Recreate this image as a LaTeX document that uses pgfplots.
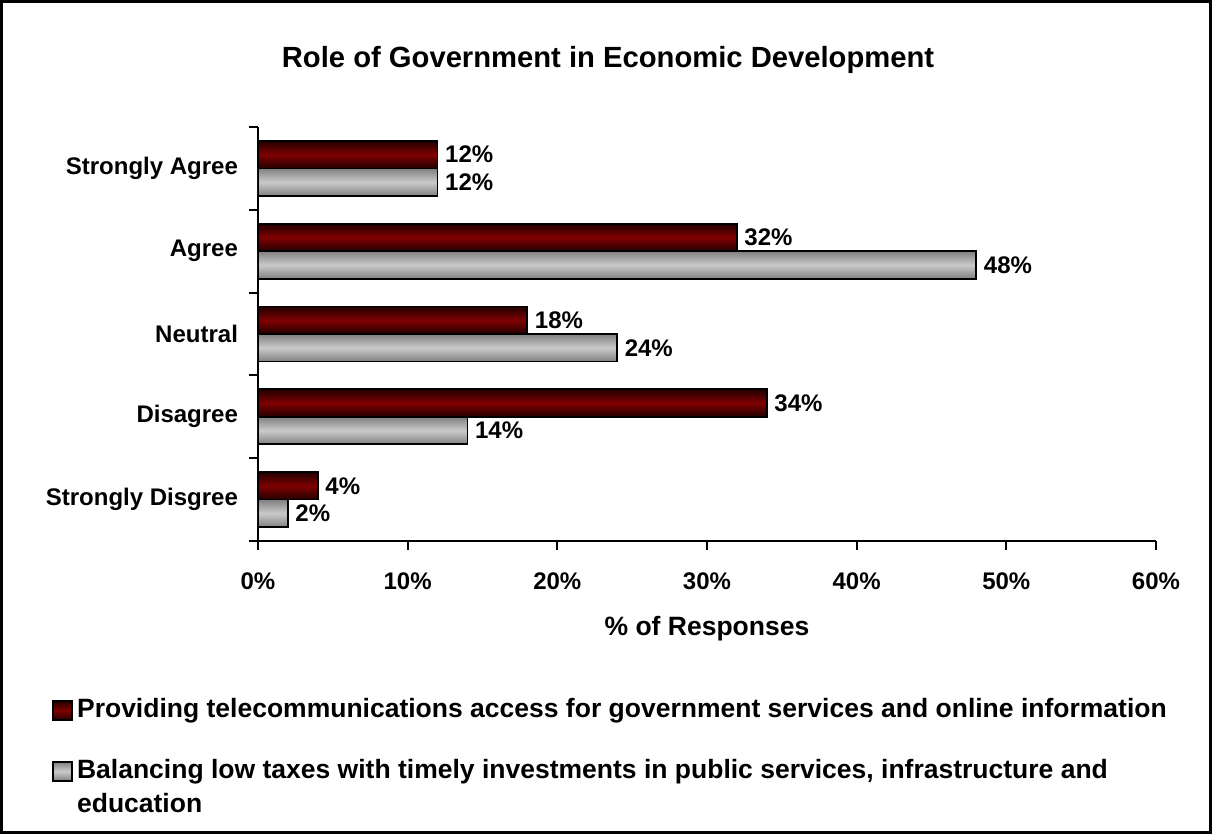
\documentclass[border=0pt]{standalone}
\usepackage{pgfplots}
\pgfplotsset{compat=1.18}
\usepackage{fontspec}
\setmainfont{Liberation Sans}

\definecolor{maroonMid}{HTML}{800000}
\definecolor{maroonEdge}{HTML}{220000}
\definecolor{greyMid}{HTML}{CACACA}
\definecolor{greyEdge}{HTML}{808080}

\newcommand{\lblfont}{\bfseries\fontsize{12}{12.5}\selectfont}
\newcommand{\valfont}{\bfseries\fontsize{12}{13}\selectfont}
\newcommand{\bigfont}{\bfseries\fontsize{13.25}{16.8}\selectfont}

\pgfplotsset{
  redbar/.style={xbar, bar shift=6.875pt, draw=black, line width=0.9pt,
    top color=maroonEdge, bottom color=maroonEdge, middle color=maroonMid,
    every node near coord/.append style={yshift=6.875pt}},
  greybar/.style={xbar, bar shift=-6.875pt, draw=black, line width=0.9pt,
    top color=greyEdge, bottom color=greyEdge, middle color=greyMid,
    every node near coord/.append style={yshift=-6.875pt}},
}

\begin{document}
\begin{tikzpicture}[x=1pt,y=1pt]
\path[use as bounding box] (-129,-146.5) rectangle (477,270.5);
\draw[line width=1.6pt] (-128.2,-145.7) rectangle (476.2,269.7);
\begin{axis}[
  at={(0,0)}, anchor=south west,
  scale only axis, width=449pt, height=207pt,
  xmin=0, xmax=60, ymin=-0.5, ymax=4.5,
  axis lines*=left,
  axis line style={line width=1pt},
  tick style={line width=1pt, black},
  tick align=outside,
  major tick length=4.5pt,
  /pgf/number format/assume math mode=true,
  xtick={0,10,...,60},
  xticklabel={\pgfmathprintnumber{\tick}\%},
  xticklabel style={font=\lblfont, yshift=-8pt},
  ytick={-0.5,0.5,...,4.5},
  yticklabels={},
  extra y ticks={0,1,2,3,4},
  extra y tick labels={Strongly Disgree,Disagree,Neutral,Agree,Strongly Agree},
  extra y tick style={major tick length=0pt,
    yticklabel style={font=\lblfont, xshift=-6.5pt}},
  xlabel={\% of Responses},
  xlabel style={font=\bigfont, at={(axis description cs:0.5,-0.2126)}, anchor=center},
  title={Role of Government in Economic Development},
  title style={font=\bfseries\fontsize{14.6}{16}\selectfont,
    at={(axis description cs:0.3898,1.133)}, anchor=center},
  bar width=13.75pt,
  nodes near coords={\pgfmathprintnumber{\pgfplotspointmeta}\%},
  point meta=x,
  every node near coord/.append style={font=\valfont, text=black, anchor=west},
  legend style={at={(axis description cs:-0.2360,-0.3607)}, anchor=north west,
    draw=none, fill=none, font=\bigfont, row sep=13.2pt,
    cells={anchor=base west}},
  legend image code/.code={%
    \draw[#1, draw=black, line width=0.8pt] (0pt,-1pt) rectangle (9.5pt,8.5pt);},
]
% Strongly Agree
\addplot[redbar] coordinates {(12,4)};
\addlegendentry{Providing telecommunications access for government services and online information}
\addplot[greybar] coordinates {(12,4)};
\addlegendentry{\begin{tabular}[t]{@{}l@{}}Balancing low taxes with timely investments in public services, infrastructure and\\education\end{tabular}}
% Agree
\addplot[redbar, forget plot] coordinates {(32,3)};
\addplot[greybar, forget plot] coordinates {(48,3)};
% Neutral
\addplot[redbar, forget plot] coordinates {(18,2)};
\addplot[greybar, forget plot] coordinates {(24,2)};
% Disagree
\addplot[redbar, forget plot] coordinates {(34,1)};
\addplot[greybar, forget plot] coordinates {(14,1)};
% Strongly Disgree
\addplot[redbar, forget plot] coordinates {(4,0)};
\addplot[greybar, forget plot] coordinates {(2,0)};
\end{axis}
\end{tikzpicture}
\end{document}
